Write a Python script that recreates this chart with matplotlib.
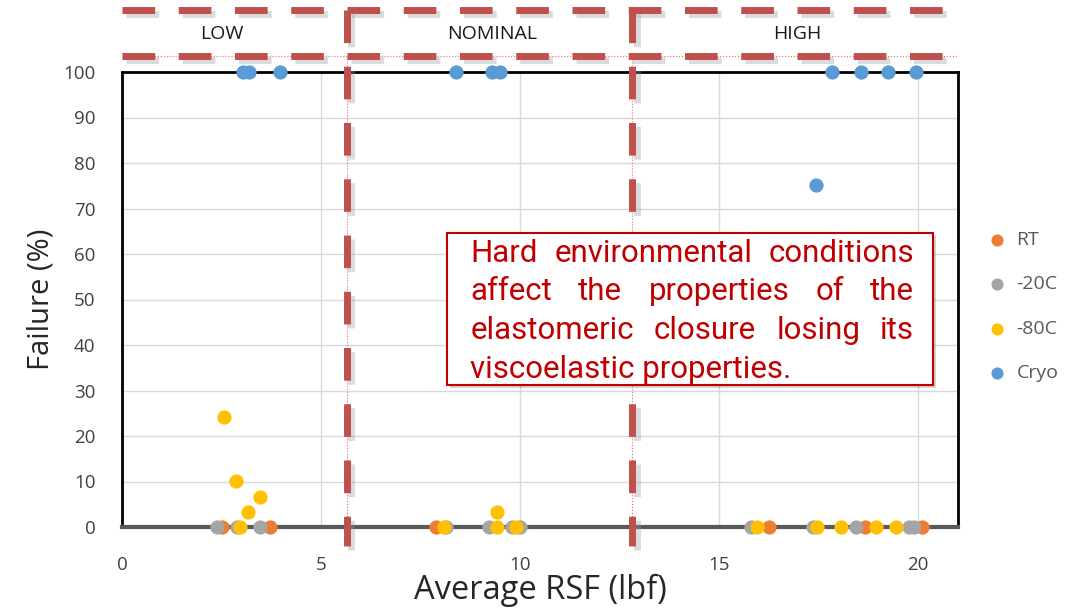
import numpy as np
import matplotlib
matplotlib.use('Agg')
import matplotlib.pyplot as plt
import matplotlib.patheffects as pe
from matplotlib.transforms import blended_transform_factory, IdentityTransform
from matplotlib.patches import Rectangle

# data (x = Average RSF in lbf, y = failure in %)
rt_x = [2.51, 3.71, 7.9, 16.26, 18.67, 20.1]
rt_y = [0, 0, 0, 0, 0, 0]

m20_x = [2.38, 2.89, 3.46, 8.15, 9.23, 9.8, 10.0, 15.8, 17.35, 18.44, 19.77, 19.9]
m20_y = [0, 0, 0, 0, 0, 0, 0, 0, 0, 0, 0, 0]

m80_x = [2.56, 2.86, 3.46, 3.16, 2.96, 8.1, 9.43, 9.43, 9.9, 15.96, 17.45, 18.07, 18.95, 19.45]
m80_y = [24.2, 10.1, 6.6, 3.3, 0, 0, 3.3, 0, 0, 0, 0, 0, 0, 0]

cryo_x = [3.04, 3.2, 3.96, 8.4, 9.3, 9.5, 17.44, 17.84, 18.57, 19.25, 19.95]
cryo_y = [100, 100, 100, 100, 100, 100, 75.2, 100, 100, 100, 100]

series = [('RT', rt_x, rt_y, '#ED7D31'),
          ('-20C', m20_x, m20_y, '#A5A5A5'),
          ('-80C', m80_x, m80_y, '#FFC000'),
          ('Cryo', cryo_x, cryo_y, '#5B9BD5')]

region_edges = [5.65, 12.82]
region_names = ['LOW', 'NOMINAL', 'HIGH']
region_label_x = [2.5, 9.3, 16.95]

note_lines = ['Hard environmental conditions',
              'affect the properties of the',
              'elastomeric closure losing its',
              'viscoelastic properties.']

W, H = 1078, 613
fig = plt.figure(figsize=(W / 100, H / 100), dpi=100)
ax = fig.add_axes([122 / W, 1 - 527 / H, (958 - 122) / W, (527 - 72) / H])

for name, xs, ys, col in series:
    ax.scatter(xs, ys, s=105, color=col, label=name, zorder=3, clip_on=False,
               linewidths=0)

ax.set_xlim(0, 21)
ax.set_ylim(0, 100)
ax.set_xticks(np.arange(0, 21, 5))
ax.set_yticks(np.arange(0, 101, 10))
ax.grid(True, color='#D9D9D9', linewidth=1)
ax.set_axisbelow(True)
ax.tick_params(length=0, labelsize=13.5, labelcolor='#404040')
ax.tick_params(axis='y', pad=19)
ax.tick_params(axis='x', pad=21)
for lab in ax.get_xticklabels() + ax.get_yticklabels():
    lab.set_fontfamily('Open Sans')
for side in ['left', 'top', 'right']:
    ax.spines[side].set_color('black')
    ax.spines[side].set_linewidth(2)
ax.spines['bottom'].set_color('#595959')
ax.spines['bottom'].set_linewidth(3)

ax.set_xlabel('Average RSF (lbf)', fontsize=23.5, family='Open Sans',
              color='#262626', labelpad=0)
ax.set_ylabel('Failure (%)', fontsize=21, family='Open Sans',
              color='#262626', labelpad=6)

# legend on the right
ax.legend(loc='upper left', bbox_to_anchor=(1.014, 0.668), frameon=False,
          prop={'family': 'Open Sans', 'size': 14}, labelcolor='#595959',
          labelspacing=1.36, handletextpad=0.0, markerscale=0.85,
          borderaxespad=0)

# dashed red region boxes
red = '#C0504D'
shadow = [pe.SimpleLineShadow(offset=(3, -3), shadow_color='#999999', alpha=0.35),
          pe.Normal()]
dash_kw = dict(color=red, linewidth=5, dashes=(4.7, 3.4), solid_capstyle='butt',
               path_effects=shadow, clip_on=False, zorder=5)

bx = blended_transform_factory(ax.transAxes, fig.transFigure)
for yy in [1 - 10 / H, 1 - 56 / H]:
    ax.plot([0, 1], [yy, yy], transform=bx, **dash_kw)
ax.plot([0, 1], [1 - 56 / H, 1 - 56 / H], transform=bx, color='#E07070',
        linewidth=0.8, linestyle=':', clip_on=False, zorder=4)

vx = blended_transform_factory(ax.transData, fig.transFigure)
for xe in region_edges:
    ax.plot([xe, xe], [1 - 10 / H, 1 - 546 / H], transform=vx, **dash_kw)
    ax.plot([xe, xe], [1 - 56 / H, 1 - 527 / H], transform=vx, color='#E07070',
            linewidth=0.8, linestyle=':', clip_on=False, zorder=4)

for name, lx in zip(region_names, region_label_x):
    ax.text(lx, 1 - 34 / H, name, transform=vx, ha='center', va='center',
            fontsize=14, family='Open Sans', color='#1a1a1a')

# annotation box with justified text
box = Rectangle((8.16, 31.2), 20.38 - 8.16, 64.6 - 31.2, facecolor='white',
                edgecolor='#C00000', linewidth=1.5, zorder=6)
box.set_path_effects([pe.SimplePatchShadow(offset=(2, -2), alpha=0.25), pe.Normal()])
ax.add_patch(box)

fig.canvas.draw()
renderer = fig.canvas.get_renderer()
left_px = ax.transData.transform((8.75, 0))[0]
right_px = ax.transData.transform((19.9, 0))[0]
baselines = [262, 300, 339, 378]
tkw = dict(fontsize=22.5, family='Roboto', color='#C00000', va='baseline',
           ha='left', transform=IdentityTransform(), zorder=7)
for i, (line, by) in enumerate(zip(note_lines, baselines)):
    ypix = H - by
    if i == len(note_lines) - 1:
        ax.text(left_px, ypix, line, **tkw)
        continue
    words = line.split()
    widths = []
    for w in words:
        t = ax.text(0, 0, w, **tkw)
        widths.append(t.get_window_extent(renderer).width)
        t.remove()
    gap = (right_px - left_px - sum(widths)) / (len(words) - 1)
    xp = left_px
    for w, wd in zip(words, widths):
        ax.text(xp, ypix, w, **tkw)
        xp += wd + gap

fig.savefig('out.png', dpi=100)
